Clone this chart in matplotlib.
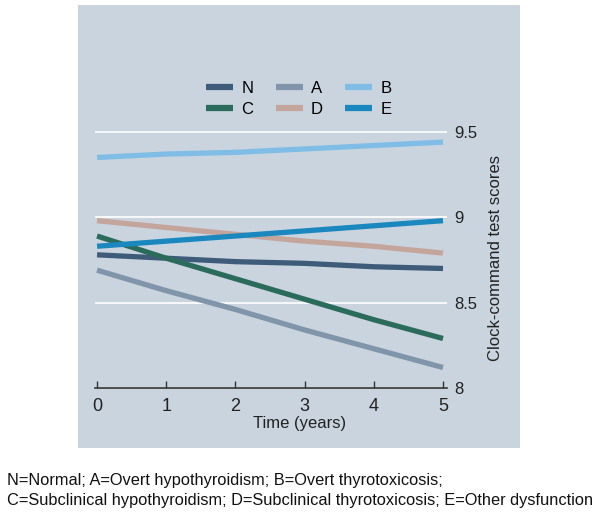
import numpy as np
import matplotlib.pyplot as plt
from matplotlib.patches import Rectangle

plt.rcParams['font.family'] = ['Liberation Sans', 'DejaVu Sans']

# Data
years = [0, 1, 2, 3, 4, 5]
groups = ['N', 'C', 'A', 'D', 'B', 'E']
scores = {
    'N': [8.78, 8.76, 8.74, 8.73, 8.71, 8.70],
    'A': [8.69, 8.57, 8.46, 8.34, 8.23, 8.12],
    'B': [9.35, 9.37, 9.38, 9.40, 9.42, 9.44],
    'C': [8.89, 8.76, 8.64, 8.52, 8.40, 8.29],
    'D': [8.98, 8.94, 8.90, 8.86, 8.83, 8.79],
    'E': [8.83, 8.86, 8.89, 8.92, 8.95, 8.98],
}
colors = {
    'N': '#3e5c7a',
    'A': '#8094aa',
    'B': '#7fbde6',
    'C': '#2b6b5c',
    'D': '#c4a59c',
    'E': '#1a88be',
}
yticks = [8, 8.5, 9, 9.5]
yticklabels = ['8', '8.5', '9', '9.5']
footnote = ("N=Normal; A=Overt hypothyroidism; B=Overt thyrotoxicosis;\n"
            "C=Subclinical hypothyroidism; D=Subclinical thyrotoxicosis; E=Other dysfunction")

bg = '#c9d4df'
fig = plt.figure(figsize=(6.01, 5.17), dpi=100)
panel = Rectangle((0.13, 0.1335), 0.735, 0.8565, transform=fig.transFigure,
                  facecolor=bg, edgecolor='none', zorder=-1)
fig.add_artist(panel)

ax = fig.add_axes([0.158, 0.2495, 0.586, 0.654])
ax.set_zorder(1)
ax.patch.set_alpha(0)

for g in groups:
    ax.plot(years, scores[g], color=colors[g], lw=3.8, label=g, solid_capstyle='butt', zorder=3)

ax.set_xlim(-0.03, 5.06)
ax.set_ylim(8, 9.98)
ax.set_yticks(yticks)
ax.set_yticklabels(yticklabels)
ax.set_xticks(years)
for y in yticks:
    ax.axhline(y, color='white', lw=1.2, zorder=1)

for s in ['left', 'right', 'top']:
    ax.spines[s].set_visible(False)
ax.spines['bottom'].set_color('#333333')
ax.spines['bottom'].set_linewidth(1.2)
ax.spines['bottom'].set_zorder(2)

ax.yaxis.tick_right()
ax.yaxis.set_label_position('right')
ax.tick_params(axis='y', length=0, pad=5, labelsize=12, labelcolor='#222222')
ax.tick_params(axis='x', direction='in', length=5, width=1, color='#333333',
               pad=7.5, labelsize=13, labelcolor='#222222')

ax.set_xlabel('Time (years)', fontsize=12, color='#222222')
ax.xaxis.set_label_coords(0.582, -0.082)
ax.set_ylabel('Clock-command test scores', fontsize=12, color='#222222')
ax.yaxis.set_label_coords(1.115, 0.385)

leg = fig.legend(ncol=3, loc='center', bbox_to_anchor=(299 / 601, 1 - 99 / 517),
                 frameon=False, fontsize=12, handlelength=1.6, handletextpad=0.5,
                 columnspacing=1.35, labelspacing=0.4)
for h in leg.legend_handles:
    h.set_linewidth(4.5)

fig.text(0.012, 0.017, footnote, fontsize=11.8, color='#111111', linespacing=1.4,
         ha='left', va='bottom')

fig.savefig('out.png', dpi=100)
